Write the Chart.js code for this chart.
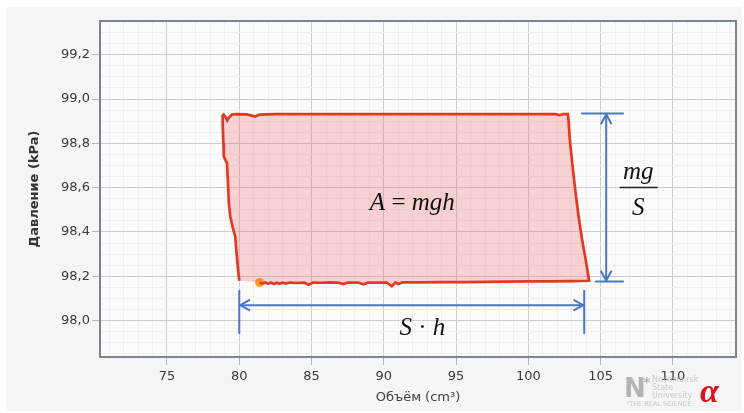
<!DOCTYPE html>
<html>
<head>
<meta charset="utf-8">
<script src="https://cdn.jsdelivr.net/npm/chart.js@4.4.1/dist/chart.umd.min.js"></script>
<style>
html, body { margin: 0; padding: 0; background: #fff; }
</style>
</head>
<body>
<canvas id="pv" width="744" height="413"></canvas>
<script>
// p-V cycle (start at the orange dot, bottom -> right -> top -> left)
const cycleX = [81.4, 81.6, 81.8, 82.0, 82.2, 82.4, 82.6, 82.8, 83.0, 83.2, 83.5, 84.0, 84.5, 84.8, 85.1, 85.6, 86.2, 86.8, 87.2, 87.5, 88.2, 88.6, 88.9, 89.5, 90.2, 90.55, 90.8, 91.0, 91.3, 92.5, 94, 95.5, 97, 98.5, 100, 101.5, 103, 104.2,
  103.95, 103.7, 103.45, 103.24, 103.05, 102.86, 102.78, 102.73,
  102.4, 102.15, 101.9, 98, 94, 90, 86, 82.5, 81.4, 81.1, 80.8, 80.5, 79.8, 79.5, 79.3, 79.17, 79.05, 78.92, 78.85,
  78.85, 78.9, 78.93, 79.15, 79.22, 79.28, 79.38, 79.55, 79.72, 79.82, 79.93, 80.0];
const cycleY = [98.172, 98.167, 98.172, 98.166, 98.172, 98.165, 98.171, 98.166, 98.172, 98.167, 98.172, 98.170, 98.172, 98.162, 98.172, 98.171, 98.173, 98.172, 98.165, 98.172, 98.172, 98.164, 98.172, 98.172, 98.172, 98.155, 98.172, 98.165, 98.173, 98.173, 98.174, 98.174, 98.175, 98.176, 98.177, 98.177, 98.178, 98.180,
  98.28, 98.37, 98.48, 98.59, 98.70, 98.82, 98.90, 98.932,
  98.932, 98.927, 98.932, 98.932, 98.932, 98.932, 98.932, 98.932, 98.930, 98.921, 98.926, 98.931, 98.932, 98.930, 98.918, 98.903, 98.918, 98.930, 98.925,
  98.89, 98.80, 98.74, 98.71, 98.62, 98.53, 98.47, 98.42, 98.38, 98.30, 98.22, 98.18];
const startPoint = { x: 81.4, y: 98.172 };

const xMajor = [75, 80, 85, 90, 95, 100, 105, 110];
const yMajor = [98.0, 98.2, 98.4, 98.6, 98.8, 99.0, 99.2];

// dimension marks, in data units
const shLine = { x0: 80.0, x1: 103.86, y: 98.07, tickTop: 98.135, tickBottom: 97.943 };
const mgsLine = { x: 105.38, y0: 98.177, y1: 98.935, topFrom: 103.7, bottomFrom: 104.67, to: 106.55 };

const isMajor = (v, list) => list.some(m => Math.abs(m - v) < 1e-6);

const pts = cycleX.map((x, i) => ({ x: x, y: cycleY[i] }));

const decor = {
  id: 'decor',
  beforeDraw(chart) {
    const { ctx, chartArea: a } = chart;
    ctx.save();
    ctx.fillStyle = '#ffffff';
    ctx.fillRect(0, 0, chart.width, chart.height);
    ctx.fillStyle = '#f5f5f5';
    ctx.fillRect(6, 7, chart.width - 8, chart.height - 9);
    ctx.fillStyle = '#fbfbfc';
    ctx.fillRect(a.left, a.top, a.right - a.left, a.bottom - a.top);
    ctx.restore();
  },
  afterDatasetsDraw(chart) {
    const { ctx, scales: { x, y } } = chart;
    const px = v => x.getPixelForValue(v), py = v => y.getPixelForValue(v);
    ctx.save();
    ctx.strokeStyle = '#4a78c8';
    ctx.lineWidth = 2;
    ctx.lineCap = 'round';
    const seg = (x0, y0, x1, y1) => { ctx.beginPath(); ctx.moveTo(x0, y0); ctx.lineTo(x1, y1); ctx.stroke(); };
    // S·h
    const hy = py(shLine.y), hx0 = px(shLine.x0) + 1, hx1 = px(shLine.x1) - 1;
    seg(px(shLine.x0), py(shLine.tickTop), px(shLine.x0), py(shLine.tickBottom));
    seg(px(shLine.x1), py(shLine.tickTop), px(shLine.x1), py(shLine.tickBottom));
    seg(hx0, hy, hx1, hy);
    ctx.beginPath(); ctx.moveTo(hx0 + 9, hy - 5); ctx.lineTo(hx0, hy); ctx.lineTo(hx0 + 9, hy + 5); ctx.stroke();
    ctx.beginPath(); ctx.moveTo(hx1 - 9, hy - 5); ctx.lineTo(hx1, hy); ctx.lineTo(hx1 - 9, hy + 5); ctx.stroke();
    // mg/S
    const vx = px(mgsLine.x), vy0 = py(mgsLine.y0), vy1 = py(mgsLine.y1);
    seg(px(mgsLine.topFrom), vy1, px(mgsLine.to), vy1);
    seg(px(mgsLine.bottomFrom), vy0, px(mgsLine.to), vy0);
    seg(vx, vy1 + 1, vx, vy0 - 1);
    ctx.beginPath(); ctx.moveTo(vx - 5, vy1 + 10); ctx.lineTo(vx, vy1 + 1); ctx.lineTo(vx + 5, vy1 + 10); ctx.stroke();
    ctx.beginPath(); ctx.moveTo(vx - 5, vy0 - 10); ctx.lineTo(vx, vy0 - 1); ctx.lineTo(vx + 5, vy0 - 10); ctx.stroke();

    // formulas
    ctx.fillStyle = '#111';
    ctx.textBaseline = 'alphabetic';
    const it = 'italic 25px "Liberation Serif"', up = '25px "Liberation Serif"';
    const run = (parts, cx, base) => {
      let w = 0;
      parts.forEach(p => { ctx.font = p[1]; w += ctx.measureText(p[0]).width; });
      let cur = cx - w / 2;
      ctx.textAlign = 'left';
      parts.forEach(p => { ctx.font = p[1]; ctx.fillText(p[0], cur, base); cur += ctx.measureText(p[0]).width; });
    };
    run([['A', it], [' = ', up], ['mgh', it]], px(91.97), py(98.498));
    run([['S', it], [' · ', up], ['h', it]], px(92.66), py(97.935));
    run([['mg', it]], px(107.6), py(98.637));
    run([['S', it]], px(107.6), py(98.476));
    ctx.strokeStyle = '#222'; ctx.lineWidth = 1.5;
    seg(px(106.35), py(98.601), px(108.9), py(98.601));
    ctx.restore();
  },
  afterDraw(chart) {
    const { ctx, chartArea: a } = chart;
    ctx.save();
    ctx.strokeStyle = '#7c8494';
    ctx.lineWidth = 2;
    ctx.strokeRect(a.left, a.top, a.right - a.left, a.bottom - a.top);
    // watermark
    ctx.textAlign = 'left';
    ctx.textBaseline = 'alphabetic';
    ctx.fillStyle = '#b4b4b4';
    ctx.font = 'bold 26px "DejaVu Sans"';
    ctx.fillText('N', 624, 397);
    ctx.font = 'bold 14px "DejaVu Sans"';
    ctx.fillText('*', 643, 387);
    ctx.fillStyle = 'rgba(190,190,190,0.8)';
    ctx.font = '8px "DejaVu Sans"';
    ctx.fillText('Novosibirsk', 652, 382);
    ctx.fillText('State', 652, 390);
    ctx.fillText('University', 652, 398);
    ctx.font = '6.5px "DejaVu Sans"';
    ctx.fillText('*THE REAL SCIENCE', 626, 406);
    ctx.fillStyle = '#d8141c';
    ctx.font = 'bold italic 34px "Liberation Serif"';
    ctx.fillText('α', 700, 402);
    ctx.restore();
  }
};

Chart.defaults.font.family = '"DejaVu Sans"';
Chart.defaults.color = '#3a3a3a';

new Chart(document.getElementById('pv'), {
  type: 'scatter',
  data: {
    datasets: [{
      data: pts,
      showLine: true,
      borderColor: '#e23a22',
      borderWidth: 2.7,
      backgroundColor: 'rgba(240,110,110,0.30)',
      fill: 'shape',
      pointRadius: 0,
      tension: 0
    }, {
      data: [startPoint],
      pointRadius: 4.5,
      pointBackgroundColor: '#f6a02a',
      pointBorderWidth: 0
    }]
  },
  options: {
    responsive: false,
    animation: false,
    layout: { padding: { left: 0, right: 8, top: 21, bottom: 0 } },
    plugins: { legend: { display: false }, tooltip: { enabled: false } },
    scales: {
      x: {
        type: 'linear',
        min: 70.366, max: 114.36,
        afterFit: s => { s.height = 56; },
        border: { display: false },
        grid: {
          color: c => isMajor(c.tick.value, xMajor) ? '#cdcdd2' : '#f0f0f2',
          tickColor: c => isMajor(c.tick.value, xMajor) ? '#b8b8b8' : 'rgba(0,0,0,0)',
          tickLength: 8, lineWidth: 1
        },
        ticks: {
          stepSize: 1, includeBounds: false, autoSkip: false, maxRotation: 0,
          padding: 4, font: { size: 13 },
          callback: v => isMajor(v, xMajor) ? String(Math.round(v)) : ''
        },
        title: { display: true, text: 'Объём (cm³)', font: { size: 13 }, color: '#404040', padding: { top: 0, bottom: 8 } }
      },
      y: {
        min: 97.836, max: 99.352,
        afterFit: s => { s.width = 100; },
        border: { display: false },
        grid: {
          color: c => isMajor(c.tick.value, yMajor) ? '#cdcdd2' : '#f0f0f2',
          tickColor: c => isMajor(c.tick.value, yMajor) ? '#b8b8b8' : 'rgba(0,0,0,0)',
          tickLength: 8, lineWidth: 1
        },
        ticks: {
          stepSize: 0.05, includeBounds: false, autoSkip: false,
          padding: 2, font: { size: 13 },
          callback: v => isMajor(v, yMajor) ? v.toFixed(1).replace('.', ',') : ''
        },
        title: { display: true, text: 'Давление (kPa)', font: { size: 13, weight: 'bold' }, color: '#333', padding: { top: 27, bottom: 0 } }
      }
    }
  },
  plugins: [decor]
});
</script>
</body>
</html>
